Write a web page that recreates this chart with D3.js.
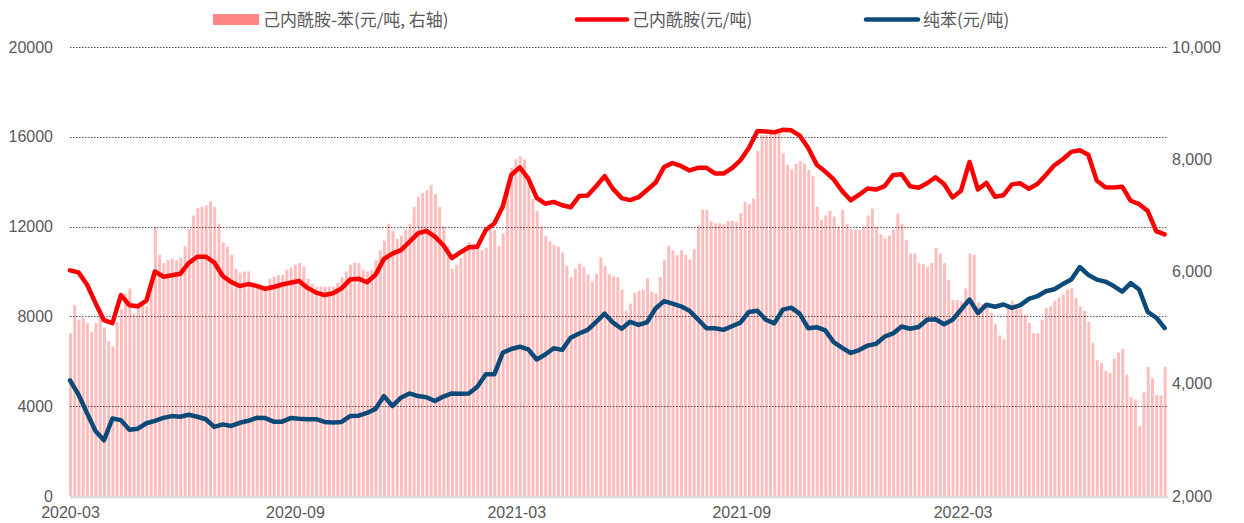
<!DOCTYPE html>
<html>
<head>
<meta charset="utf-8">
<script src="https://cdn.jsdelivr.net/npm/d3@7"></script>
<style>
  html, body { margin: 0; padding: 0; background: #fff; }
  svg { display: block; }
</style>
</head>
<body>
<svg id="chart" width="1244" height="523"></svg>
<script>
// ---------------- DATA ----------------
// sampling: line series every ~6.94 days, spread bars every ~3.47 days, starting 2020-03-01
const startDate = "2020-03-01";
const endDate = "2022-08-16";
const lineStepDays = 6.94;
const barStepDays = 3.47;

// 己内酰胺 (元/吨), left axis
const cplPrice = [
  10050, 9960, 9420, 8600, 7830, 7700, 8950, 8500, 8450, 8700,
  10000, 9770, 9830, 9900, 10380, 10660, 10660, 10400, 9800, 9530,
  9350, 9440, 9360, 9230, 9310, 9420, 9500, 9580, 9270, 9060,
  8950, 9030, 9250, 9640, 9680, 9520, 9850, 10560, 10800, 10950,
  11320, 11700, 11810, 11550, 11170, 10600, 10850, 11080, 11100, 11850,
  12140, 12900, 14300, 14640, 14150, 13280, 13020, 13100, 12950, 12860,
  13360, 13380, 13800, 14250, 13680, 13270, 13180, 13310, 13630, 13950,
  14650, 14830, 14700, 14500, 14620, 14620, 14370, 14360, 14600, 14950,
  15500, 16250, 16240, 16200, 16310, 16290, 16050, 15500, 14750, 14450,
  14100, 13580, 13170, 13420, 13700, 13650, 13800, 14300, 14330, 13800,
  13730, 13930, 14200, 13900, 13300, 13600, 14880, 13650, 13950, 13330,
  13400, 13880, 13930, 13680, 13900, 14300, 14730, 15000, 15330, 15400,
  15200, 14050, 13750, 13740, 13780, 13150, 13000, 12700, 11800, 11650
];

// 纯苯 (元/吨), left axis
const benzenePrice = [
  5150, 4520, 3700, 2900, 2480, 3450, 3380, 2950, 3000, 3240,
  3350, 3480, 3560, 3530, 3620, 3530, 3420, 3080, 3190, 3120,
  3260, 3350, 3480, 3470, 3310, 3310, 3470, 3440, 3420, 3420,
  3300, 3270, 3300, 3560, 3580, 3700, 3880, 4450, 4010, 4380,
  4570, 4450, 4400, 4230, 4430, 4570, 4550, 4570, 4870, 5420,
  5420, 6380, 6550, 6650, 6530, 6080, 6300, 6580, 6510, 7050,
  7240, 7400, 7750, 8120, 7720, 7450, 7760, 7620, 7740, 8350,
  8680, 8570, 8450, 8250, 7870, 7470, 7470, 7400, 7560, 7720,
  8200, 8250, 7850, 7690, 8300, 8390, 8110, 7470, 7520, 7380,
  6850, 6600, 6370, 6500, 6700, 6780, 7100, 7240, 7550, 7450,
  7530, 7850, 7870, 7650, 7850, 8300, 8750, 8150, 8520, 8430,
  8530, 8380, 8500, 8780, 8900, 9120, 9210, 9440, 9640, 10200,
  9850, 9640, 9550, 9350, 9100, 9480, 9200, 8200, 7950, 7480
];

// 己内酰胺-苯 (元/吨), right axis
const spread = [
  4900, 5400, 5140, 5170, 5080, 4920, 5080, 5300, 5000, 4760,
  4660, 5100, 5330, 5600, 5700, 5250, 5440, 5400, 5380, 5800,
  6800, 6300, 6150, 6200, 6230, 6200, 6250, 6450, 6760, 7000,
  7130, 7150, 7180, 7250, 7150, 6850, 6520, 6440, 6300, 6050,
  5980, 6000, 6000, 5800, 5760, 5680, 5700, 5870, 5910, 5940,
  5940, 6030, 6070, 6120, 6150, 6090, 5870, 5780, 5730, 5730,
  5730, 5730, 5730, 5800, 5900, 6000, 6120, 6160, 6150, 6030,
  6000, 6020, 6200, 6380, 6550, 6850, 6720, 6580, 6640, 6740,
  6850, 7150, 7330, 7400, 7450, 7540, 7380, 7150, 6800, 6450,
  6050, 6120, 6240, 6400, 6520, 6490, 6440, 6380, 6420, 6740,
  6740, 6450, 6680, 7400, 7850, 8000, 8050, 8000, 7630, 7290,
  7080, 6800, 6630, 6540, 6470, 6440, 6340, 6100, 5900, 6050,
  6140, 6080, 5950, 5820, 5960, 6250, 6100, 5950, 5910, 5900,
  5680, 5300, 5430, 5620, 5660, 5680, 5880, 5640, 5610, 5900,
  6200, 6460, 6380, 6290, 6380, 6300, 6220, 6400, 6820, 7100,
  7100, 6900, 6860, 6860, 6840, 6900, 6900, 6880, 7040, 7240,
  7200, 7300, 8150, 8430, 8430, 8460, 8520, 8550, 8100, 7900,
  7820, 7920, 7970, 7920, 7810, 7700, 7150, 6920, 7000, 7080,
  6980, 6800, 7100, 6850, 6750, 6740, 6740, 6800, 7000, 7120,
  6800, 6660, 6590, 6640, 6750, 7030, 6850, 6560, 6320, 6320,
  6150, 6130, 6080, 6150, 6420, 6320, 6150, 5850, 5490, 5490,
  5470, 5700, 6320, 6300, 5450, 5420, 5400, 5260, 5060, 4860,
  4790, 5370, 5480, 5400, 5340, 5230, 5080, 4900, 4900, 5140,
  5350, 5380, 5480, 5540, 5590, 5680, 5700, 5530, 5380, 5300,
  5100, 4730, 4420, 4370, 4230, 4190, 4450, 4560, 4620, 4160,
  3760, 3720, 3250, 3850, 4300, 4100, 3800, 3790, 4300
];

const leftTicks = [0, 4000, 8000, 12000, 16000, 20000];
const rightTicks = [2000, 4000, 6000, 8000, 10000];
const xTickLabels = ["2020-03", "2020-09", "2021-03", "2021-09", "2022-03"];

const seriesNames = {
  spread: "己内酰胺-苯(元/吨, 右轴)",
  cpl: "己内酰胺(元/吨)",
  benzene: "纯苯(元/吨)"
};

// ---------------- CHART ----------------
const margin = { left: 70, right: 1168, top: 47, bottom: 496 };
const colors = { spread: "#ffbcbc", spreadLegend: "#ff8585", cpl: "#ff0000", benzene: "#0c4a79" };
const textColor = "#595959";
const numFont = "'Liberation Sans', Arial, sans-serif";
const cjkFont = "'Noto Sans CJK SC', 'Noto Sans', sans-serif";

const parse = d3.utcParse("%Y-%m-%d");
const t0 = parse(startDate);
const t1 = parse(endDate);
const dayMs = 864e5;
const lineDate = i => new Date(t0.getTime() + i * lineStepDays * dayMs);
const barDate = i => new Date(t0.getTime() + i * barStepDays * dayMs);

const x = d3.scaleUtc().domain([t0, t1]).range([margin.left, margin.right]);
const yL = d3.scaleLinear().domain([0, 20000]).range([margin.bottom, margin.top]);
const yR = d3.scaleLinear().domain([2000, 10000]).range([margin.bottom, margin.top]);

const svg = d3.select("#chart");

// bars
const barStepPx = x(barDate(1)) - x(barDate(0));
const barW = Math.max(1, barStepPx - 1.3);
svg.append("g").selectAll("rect").data(spread).join("rect")
  .attr("x", (d, i) => x(barDate(i)) - barW / 2 + 0.5)
  .attr("y", d => yR(d))
  .attr("width", barW)
  .attr("height", d => yR(2000) - yR(d))
  .attr("fill", colors.spread);

// gridlines (left axis)
const grid = svg.append("g");
grid.selectAll("line").data(leftTicks.filter(v => v > 0)).join("line")
  .attr("x1", margin.left).attr("x2", margin.right)
  .attr("y1", d => Math.round(yL(d)) + 0.5).attr("y2", d => Math.round(yL(d)) + 0.5)
  .attr("stroke", "#222").attr("stroke-width", 0.8)
  .attr("stroke-dasharray", "1.5,1.5");

// baseline
svg.append("line")
  .attr("x1", margin.left).attr("x2", margin.right)
  .attr("y1", yL(0) + 1).attr("y2", yL(0) + 1)
  .attr("stroke", "#d9d9d9").attr("stroke-width", 2.5);

// lines
const lineGen = d3.line().x((d, i) => x(lineDate(i))).y(d => yL(d));
svg.append("path").datum(benzenePrice)
  .attr("d", lineGen).attr("fill", "none")
  .attr("stroke", colors.benzene).attr("stroke-width", 4.5)
  .attr("stroke-linejoin", "round").attr("stroke-linecap", "round");
svg.append("path").datum(cplPrice)
  .attr("d", lineGen).attr("fill", "none")
  .attr("stroke", colors.cpl).attr("stroke-width", 4.5)
  .attr("stroke-linejoin", "round").attr("stroke-linecap", "round");

// left axis labels
const leftAxis = d3.axisLeft(yL).tickValues(leftTicks).tickSize(0).tickPadding(0).tickFormat(d3.format("d"));
const gl = svg.append("g").attr("transform", "translate(53,0)").call(leftAxis);
gl.select(".domain").remove();
gl.selectAll("text").attr("font-family", numFont).attr("font-size", 16).attr("fill", textColor);

// right axis labels
const rightAxis = d3.axisRight(yR).tickValues(rightTicks).tickSize(0).tickPadding(0).tickFormat(d3.format(","));
const gr = svg.append("g").attr("transform", "translate(1172,0)").call(rightAxis);
gr.select(".domain").remove();
gr.selectAll("text").attr("font-family", numFont).attr("font-size", 16).attr("fill", textColor);

// x axis labels
const xTicks = xTickLabels.map(s => parse(s + "-01"));
const xAxis = d3.axisBottom(x).tickValues(xTicks).tickSize(0).tickPadding(0).tickFormat(d3.utcFormat("%Y-%m"));
const gx = svg.append("g").attr("transform", "translate(0,507)").call(xAxis);
gx.select(".domain").remove();
gx.selectAll("text").attr("font-family", numFont).attr("font-size", 16).attr("fill", textColor);

// legend
const legend = svg.append("g");
legend.append("rect").attr("x", 213).attr("y", 14).attr("width", 46).attr("height", 11).attr("fill", colors.spreadLegend);
legend.append("text").attr("x", 263).attr("y", 26).text(seriesNames.spread);
legend.append("line").attr("x1", 577).attr("x2", 627).attr("y1", 19.5).attr("y2", 19.5)
  .attr("stroke", colors.cpl).attr("stroke-width", 4.5).attr("stroke-linecap", "round");
legend.append("text").attr("x", 632).attr("y", 26).text(seriesNames.cpl);
legend.append("line").attr("x1", 866).attr("x2", 918).attr("y1", 19.5).attr("y2", 19.5)
  .attr("stroke", colors.benzene).attr("stroke-width", 4.5).attr("stroke-linecap", "round");
legend.append("text").attr("x", 923).attr("y", 26).text(seriesNames.benzene);
legend.selectAll("text").attr("font-family", cjkFont).attr("font-size", 17).attr("fill", textColor);
</script>
</body>
</html>
